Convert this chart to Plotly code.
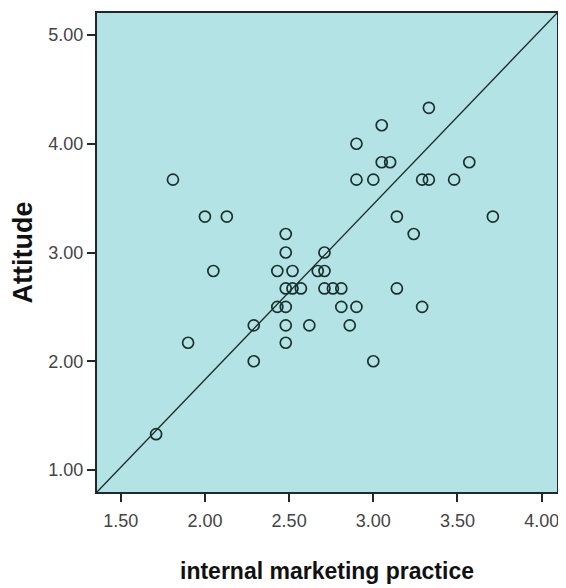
import numpy as np
import plotly.graph_objects as go

# internal marketing practice (x) and Attitude (y)
practice = [3.33, 3.05, 2.90, 3.05, 3.10, 3.57, 1.81, 2.90, 3.00, 3.29, 3.33, 3.48,
            2.00, 2.13, 3.14, 3.71, 3.24, 2.48, 2.48, 2.71, 2.05, 2.43, 2.52, 2.67,
            2.71, 3.14, 2.48, 2.52, 2.57, 2.71, 2.76, 2.81, 2.43, 2.48, 2.81, 2.90,
            3.29, 2.29, 2.48, 2.62, 2.86, 1.90, 2.48, 2.29, 3.00, 1.71]
attitude = [4.33, 4.17, 4.00, 3.83, 3.83, 3.83, 3.67, 3.67, 3.67, 3.67, 3.67, 3.67,
            3.33, 3.33, 3.33, 3.33, 3.17, 3.17, 3.00, 3.00, 2.83, 2.83, 2.83, 2.83,
            2.83, 2.67, 2.67, 2.67, 2.67, 2.67, 2.67, 2.67, 2.50, 2.50, 2.50, 2.50,
            2.50, 2.33, 2.33, 2.33, 2.33, 2.17, 2.17, 2.00, 2.00, 1.33]

# fit line (slope, intercept)
fit_slope = 1.612
fit_intercept = -1.393

x_range = [1.359, 4.091]
y_range = [0.798, 5.202]
x_ticks = [1.5, 2.0, 2.5, 3.0, 3.5, 4.0]
y_ticks = [1.0, 2.0, 3.0, 4.0, 5.0]

FONT = "Liberation Sans, Arial, sans-serif"

fig = go.Figure()
line_x = np.array(x_range)
fig.add_trace(go.Scatter(
    x=line_x, y=fit_slope * line_x + fit_intercept, mode="lines",
    line=dict(color="#1c2c2c", width=1.3), hoverinfo="skip", showlegend=False))
fig.add_trace(go.Scatter(
    x=practice, y=attitude, mode="markers",
    marker=dict(symbol="circle-open", size=11, color="#1a3030",
                line=dict(width=1.7, color="#1a3030")),
    showlegend=False))

axis_common = dict(
    showgrid=False, zeroline=False, showline=True, linecolor="#202828",
    linewidth=2, mirror=True, ticks="outside", ticklen=8, tickwidth=1.5,
    tickcolor="#202828", automargin=False,
    tickfont=dict(family=FONT, size=18, color="#444444"),
)

fig.update_xaxes(range=x_range, tickvals=x_ticks, ticktext=[f"{v:.2f}" for v in x_ticks],
                 ticklabelstandoff=3,
                 title=dict(text="<b>internal marketing practice</b>", standoff=33,
                            font=dict(family=FONT, size=23, color="#111111")),
                 **axis_common)
fig.update_yaxes(range=y_range, tickvals=y_ticks, ticktext=[f"{v:.2f}" for v in y_ticks],
                 title=dict(text="<b>Attitude</b>", standoff=20,
                            font=dict(family=FONT, size=27, color="#111111")),
                 **axis_common)

# page has an 8px body margin, so the figure is sized/offset to compensate
fig.update_layout(
    width=558, height=580,
    margin=dict(l=89, r=9, t=5, b=96),
    plot_bgcolor="#b3e3e5", paper_bgcolor="white",
)

fig.write_html("out.html")
